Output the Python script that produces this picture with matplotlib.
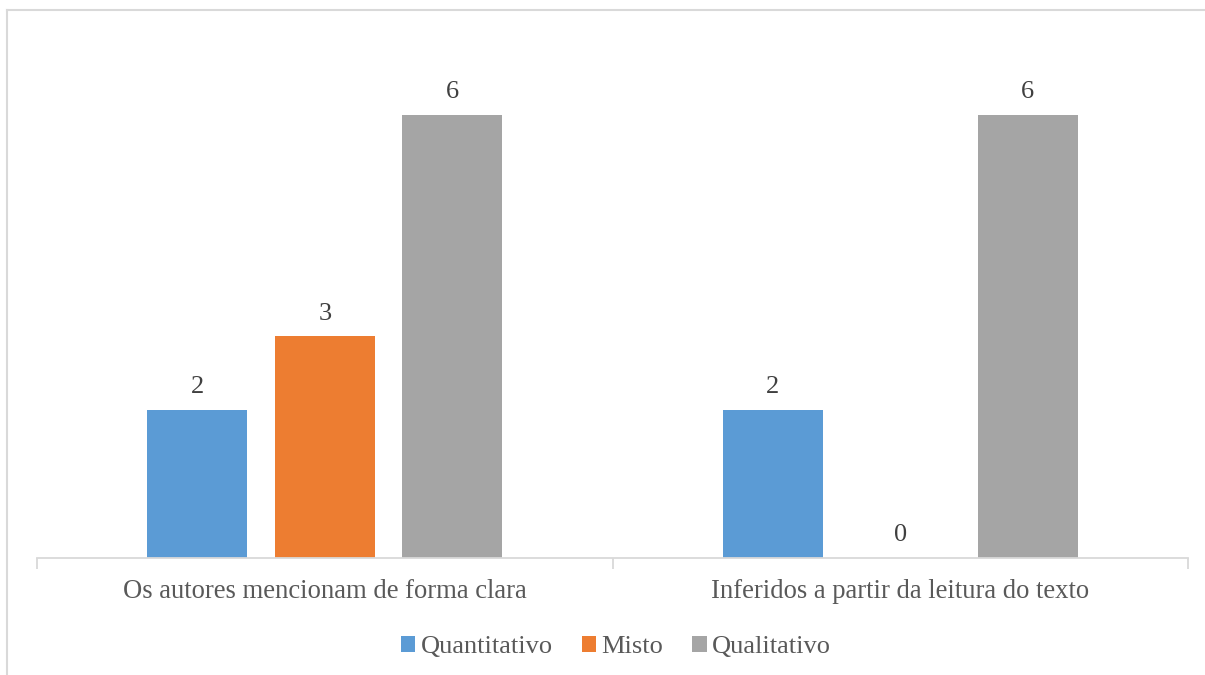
import matplotlib
matplotlib.use("Agg")
import matplotlib.pyplot as plt
from matplotlib.lines import Line2D
import numpy as np

categories = ["Os autores mencionam de forma clara", "Inferidos a partir da leitura do texto"]
series_names = ["Quantitativo", "Misto", "Qualitativo"]
values = {
    "Quantitativo": [2, 2],
    "Misto": [3, 0],
    "Qualitativo": [6, 6],
}
colors = ["#5B9BD5", "#ED7D31", "#A5A5A5"]

plt.rcParams["font.family"] = ["Liberation Serif", "DejaVu Serif"]

W, H = 1205, 675
fig = plt.figure(figsize=(W / 100, H / 100), dpi=100)
ax = fig.add_axes([37 / W, (H - 558) / H, (1188 - 37) / W, (558 - 41) / H])

x = np.arange(len(categories))
width = 0.174
step = 0.2216
for i, (name, col) in enumerate(zip(series_names, colors)):
    offs = (i - 1) * step
    bars = ax.bar(x + offs, values[name], width, color=col, label=name)
    for b, v in zip(bars, values[name]):
        ax.annotate(str(v), (b.get_x() + b.get_width() / 2, v),
                    xytext=(0, 16.5), textcoords="offset points",
                    ha="center", va="center", fontsize=19, color="#404040")

ax.set_xlim(-0.5, 1.5)
ax.set_ylim(0, 7)
ax.set_yticks([])
for s in ["top", "right", "left"]:
    ax.spines[s].set_visible(False)
ax.spines["bottom"].set_color("#D9D9D9")
ax.spines["bottom"].set_linewidth(1.3)

# Category tick marks between groups
ax.set_xticks([-0.5, 0.5, 1.5])
ax.set_xticklabels([])
ax.tick_params(axis="x", length=8, width=1.3, color="#D9D9D9")
for xi, lab in zip(x, categories):
    ax.annotate(lab, (xi, 0), xytext=(0, -24), textcoords="offset points",
                ha="center", va="center", fontsize=19.2, color="#595959",
                annotation_clip=False)

leg = fig.legend(loc="center", bbox_to_anchor=(616 / W, (H - 647) / H), ncol=3,
                 frameon=False, fontsize=19, handlelength=0.55, handleheight=0.55,
                 handletextpad=0.2, columnspacing=1.1, labelcolor="#595959")

# Outer chart frame
fig.add_artist(Line2D([7 / W, 7 / W], [0, 1 - 10 / H], transform=fig.transFigure,
                      color="#D9D9D9", lw=1.5))
fig.add_artist(Line2D([7 / W, 1], [1 - 10 / H, 1 - 10 / H], transform=fig.transFigure,
                      color="#D9D9D9", lw=1.5))

fig.savefig("out.png", dpi=100, facecolor="white")
